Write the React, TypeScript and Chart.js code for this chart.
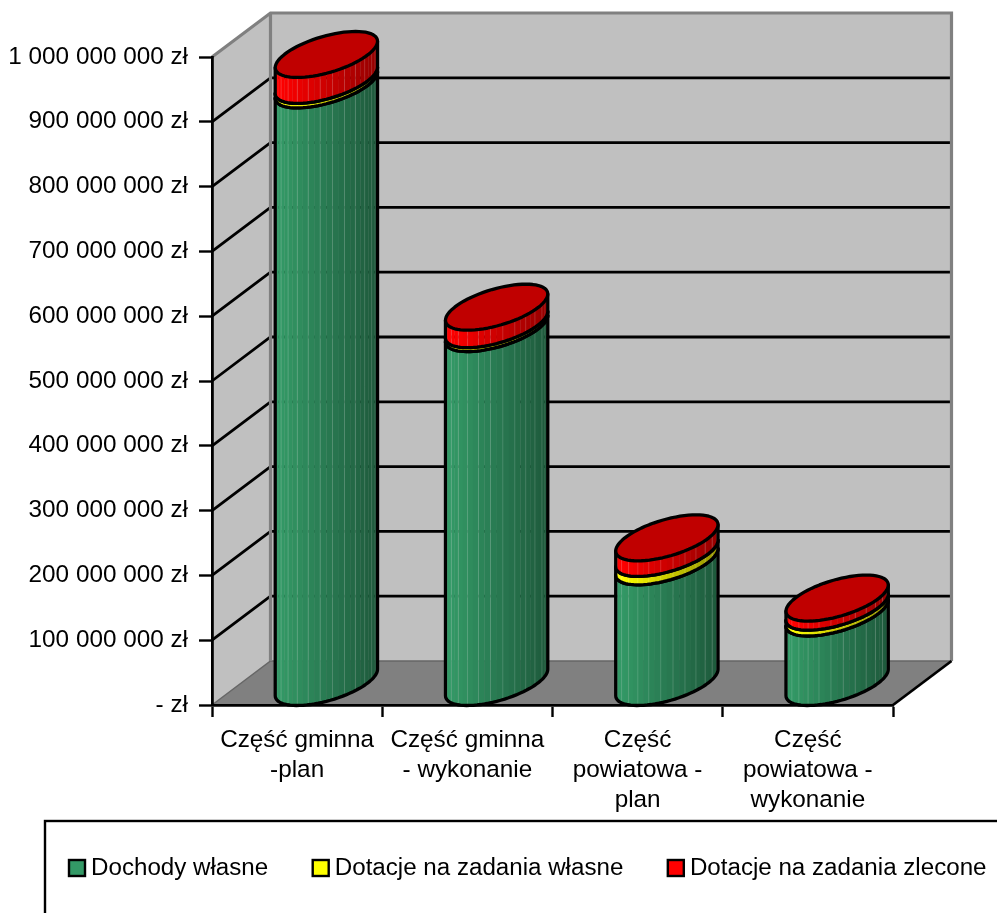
import React, { useEffect, useRef } from "react";
import { Chart, registerables } from "chart.js";

Chart.register(...registerables);

const categories = [
  ["Część gminna", "-plan"],
  ["Część gminna", "- wykonanie"],
  ["Część", "powiatowa -", "plan"],
  ["Część", "powiatowa -", "wykonanie"],
];
const dochodyWlasne = [923000000, 547000000, 187000000, 108000000];
const dotacjeWlasne = [7000000, 6000000, 13000000, 9000000];
const dotacjeZlecone = [40000000, 27000000, 24000000, 14000000];

const FONT = "'Liberation Sans', Arial, sans-serif";
const FONT_SIZE = 24.3;
const LEGEND_FONT_SIZE = 24.15;
const LEGEND_GAP = 44.5;
const DX = 58.5;
const DY = 44;
const ELLIPSE_C = 23;

type RGB = [number, number, number];
const sideColors: RGB[] = [
  [51, 153, 102],
  [255, 255, 0],
  [255, 0, 0],
];

function shade(c: RGB, t: number) {
  const f = 1.02 - 0.44 * t;
  const v = c.map((n) => Math.min(255, Math.round(n * f)));
  return `rgb(${v[0]},${v[1]},${v[2]})`;
}

function frontPoint(cx: number, cy: number, a: number, th: number) {
  const b = DX / 2;
  return [cx + a * Math.cos(th) + b * Math.sin(th), cy - ELLIPSE_C * Math.sin(th)];
}

function formatTick(v: number) {
  if (v === 0) return "- zł";
  return String(v).replace(/\B(?=(\d{3})+$)/g, " ") + " zł";
}

const cylinderPlugin: any = {
  id: "cylinder3d",
  beforeLayout(chart: any) {
    const lg = chart.legend;
    if (!lg || lg.__wrapped) return;
    lg.__wrapped = true;
    const fit = lg.fit;
    lg.fit = function () {
      this.maxWidth = 1300;
      fit.call(this);
      this.height = 0;
    };
  },
  afterLayout(chart: any) {
    const lg = chart.legend;
    if (!lg) return;
    lg.left = 69 - LEGEND_GAP;
    lg.right = 1300;
    lg.top = 868.5 - LEGEND_GAP - lg.legendHitBoxes[0].height / 2;
    lg.bottom = chart.height;
  },
  beforeDraw(chart: any) {
    const ctx: CanvasRenderingContext2D = chart.ctx;
    const x = chart.scales.x;
    const y = chart.scales.y;
    const L = x.left;
    const R = x.right;
    const T = y.top;
    const B = y.bottom;
    ctx.save();
    ctx.fillStyle = "#ffffff";
    ctx.fillRect(0, 0, chart.width, chart.height);
    ctx.fillStyle = "#c0c0c0";
    ctx.fillRect(L + DX, T - DY, R - L, B - T);
    ctx.beginPath();
    ctx.moveTo(L, T);
    ctx.lineTo(L + DX, T - DY);
    ctx.lineTo(L + DX, B - DY);
    ctx.lineTo(L, B);
    ctx.closePath();
    ctx.fill();
    ctx.fillStyle = "#808080";
    ctx.beginPath();
    ctx.moveTo(L, B);
    ctx.lineTo(L + DX, B - DY);
    ctx.lineTo(R + DX, B - DY);
    ctx.lineTo(R, B);
    ctx.closePath();
    ctx.fill();

    y.ticks.forEach((t: any) => {
      if (t.value === 0 || t.value === y.max) return;
      const py = y.getPixelForValue(t.value);
      ctx.strokeStyle = "#000000";
      ctx.lineWidth = 2.8;
      ctx.beginPath();
      ctx.moveTo(L, py);
      ctx.lineTo(L + DX, py - DY);
      ctx.lineTo(R + DX, py - DY);
      ctx.stroke();
    });

    ctx.strokeStyle = "#666666";
    ctx.lineWidth = 1.5;
    ctx.beginPath();
    ctx.moveTo(L, B);
    ctx.lineTo(L + DX, B - DY);
    ctx.lineTo(R + DX, B - DY);
    ctx.stroke();

    ctx.strokeStyle = "#808080";
    ctx.lineWidth = 3.2;
    ctx.beginPath();
    ctx.moveTo(L, T);
    ctx.lineTo(L + DX, T - DY);
    ctx.lineTo(R + DX, T - DY);
    ctx.lineTo(R + DX, B - DY);
    ctx.moveTo(L + DX, T - DY);
    ctx.lineTo(L + DX, B - DY);
    ctx.stroke();

    ctx.strokeStyle = "#000000";
    ctx.lineWidth = 2.8;
    ctx.beginPath();
    ctx.moveTo(R, B);
    ctx.lineTo(R + DX, B - DY);
    ctx.stroke();
    ctx.restore();
  },
  beforeDatasetDraw() {
    return false;
  },
  afterDatasetsDraw(chart: any) {
    const ctx: CanvasRenderingContext2D = chart.ctx;
    const n = chart.data.labels.length;
    const facets = 26;
    ctx.save();
    ctx.lineJoin = "round";
    ctx.lineCap = "round";
    for (let j = 0; j < n; j++) {
      chart.data.datasets.forEach((_: any, di: number) => {
        const el = chart.getDatasetMeta(di).data[j];
        const a = el.width / 2;
        const b = DX / 2;
        const rr = Math.hypot(a, b);
        const cx = el.x + DX / 2;
        const topY = el.y - DY / 2;
        const botY = el.base - DY / 2;
        const th0 = Math.atan2(-b, -a);
        const th1 = Math.atan2(b, a);
        const at = (k: number) => th0 + ((th1 - th0) * k) / facets;
        for (let k = 0; k < facets; k++) {
          const p0 = frontPoint(cx, topY, a, at(k));
          const p1 = frontPoint(cx, topY, a, at(k + 1));
          const q0 = frontPoint(cx, botY, a, at(k));
          const q1 = frontPoint(cx, botY, a, at(k + 1));
          const t = ((p0[0] + p1[0]) / 2 - (cx - rr)) / (2 * rr);
          ctx.fillStyle = shade(sideColors[di], t);
          ctx.beginPath();
          ctx.moveTo(p0[0], p0[1]);
          ctx.lineTo(p1[0] + 0.3, p1[1]);
          ctx.lineTo(q1[0] + 0.3, q1[1]);
          ctx.lineTo(q0[0], q0[1]);
          ctx.closePath();
          ctx.fill();
          if (k > 0 && k % 2 === 0) {
            ctx.strokeStyle = "rgba(255,255,255,0.16)";
            ctx.lineWidth = 1;
            ctx.beginPath();
            ctx.moveTo(p0[0], p0[1]);
            ctx.lineTo(q0[0], q0[1]);
            ctx.stroke();
          }
        }
        ctx.strokeStyle = "#000000";
        ctx.lineWidth = 3.3;
        ctx.beginPath();
        const s = frontPoint(cx, topY, a, at(0));
        ctx.moveTo(s[0], s[1]);
        for (let k = 0; k <= 40; k++) {
          const p = frontPoint(cx, botY, a, th0 + ((th1 - th0) * k) / 40);
          ctx.lineTo(p[0], p[1]);
        }
        const e = frontPoint(cx, topY, a, th1);
        ctx.lineTo(e[0], e[1]);
        ctx.stroke();
        if (di === chart.data.datasets.length - 1) {
          ctx.fillStyle = "#c00000";
          ctx.beginPath();
          for (let k = 0; k < 72; k++) {
            const p = frontPoint(cx, topY, a, (k / 72) * Math.PI * 2);
            if (k === 0) ctx.moveTo(p[0], p[1]);
            else ctx.lineTo(p[0], p[1]);
          }
          ctx.closePath();
          ctx.fill();
          ctx.stroke();
        } else {
          ctx.beginPath();
          for (let k = 0; k <= 40; k++) {
            const p = frontPoint(cx, topY, a, th0 + ((th1 - th0) * k) / 40);
            if (k === 0) ctx.moveTo(p[0], p[1]);
            else ctx.lineTo(p[0], p[1]);
          }
          ctx.stroke();
        }
      });
    }
    ctx.restore();
  },
  afterDraw(chart: any) {
    const ctx: CanvasRenderingContext2D = chart.ctx;
    const lg = chart.legend;
    ctx.save();
    ctx.strokeStyle = "#000000";
    ctx.lineWidth = 2.4;
    ctx.strokeRect(45, 821, 1100, 300);
    const cy = 868;
    chart.data.datasets.forEach((ds: any, i: number) => {
      const h = lg.legendHitBoxes[i];
      ctx.fillStyle = ds.backgroundColor;
      ctx.lineWidth = 2.4;
      ctx.fillRect(h.left, cy - 8, 16, 16);
      ctx.strokeRect(h.left, cy - 8, 16, 16);
    });
    ctx.restore();
  },
};

export default function App() {
  const ref = useRef<HTMLCanvasElement | null>(null);
  useEffect(() => {
    if (!ref.current) return;
    const font = { family: FONT, size: FONT_SIZE };
    const chart = new Chart(ref.current, {
      type: "bar",
      data: {
        labels: categories as any,
        datasets: [
          { label: "Dochody własne", data: dochodyWlasne, backgroundColor: "#339966" },
          { label: "Dotacje na zadania własne", data: dotacjeWlasne, backgroundColor: "#ffff00" },
          { label: "Dotacje na zadania zlecone", data: dotacjeZlecone, backgroundColor: "#ff0000" },
        ],
      },
      options: {
        responsive: false,
        animation: false,
        devicePixelRatio: 1,
        layout: { padding: { left: 0, top: 57, right: 104, bottom: 0 } },
        datasets: { bar: { categoryPercentage: 1, barPercentage: 0.493 } },
        plugins: {
          tooltip: { enabled: false },
          title: { display: false },
          legend: {
            display: true,
            position: "bottom",
            align: "start",
            labels: {
              font: { family: FONT, size: LEGEND_FONT_SIZE },
              color: "#000000",
              boxWidth: 10,
              boxHeight: 16,
              padding: LEGEND_GAP,
              generateLabels: (c: any) =>
                c.data.datasets.map((d: any, i: number) => ({
                  text: d.label,
                  fontColor: "#000000",
                  fillStyle: "rgba(0,0,0,0)",
                  strokeStyle: "rgba(0,0,0,0)",
                  lineWidth: 0,
                  datasetIndex: i,
                })),
            },
          },
        },
        scales: {
          x: {
            stacked: true,
            grid: { drawOnChartArea: false, tickLength: 12, tickColor: "#000000", tickWidth: 2.4 },
            border: { color: "#000000", width: 2.8 },
            ticks: {
              font: { ...font, lineHeight: "30px" },
              color: "#000000",
              padding: 8,
              maxRotation: 0,
              autoSkip: false,
            },
            afterFit: (s: any) => {
              s.height = 208;
            },
          },
          y: {
            stacked: true,
            min: 0,
            max: 1000000000,
            grid: { drawOnChartArea: false, tickLength: 13, tickColor: "#000000", tickWidth: 2.4 },
            border: { color: "#000000", width: 2.8 },
            ticks: {
              font,
              color: "#000000",
              padding: 11,
              stepSize: 100000000,
              callback: (v: any) => formatTick(Number(v)),
            },
            afterFit: (s: any) => {
              s.width = 212;
            },
          },
        },
      } as any,
      plugins: [cylinderPlugin],
    });
    return () => chart.destroy();
  }, []);
  return (
    <div style={{ position: "absolute", left: 0, top: 0, width: 997, height: 913, overflow: "hidden", background: "#fff" }}>
      <canvas ref={ref} width={997} height={913} style={{ display: "block", width: 997, height: 913 }} />
    </div>
  );
}
